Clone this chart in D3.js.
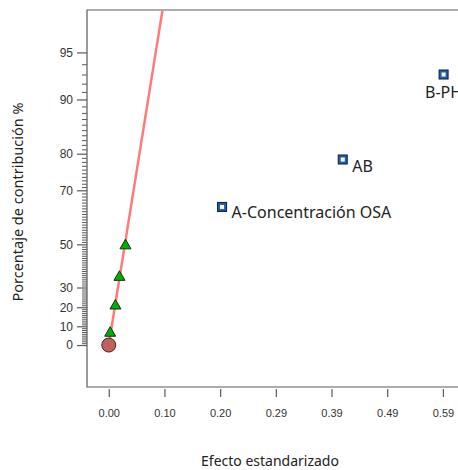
<!DOCTYPE html>
<html>
<head>
<meta charset="utf-8">
<script src="https://cdn.jsdelivr.net/npm/d3@7"></script>
<style>
  body { margin: 0; background: #fff; }
  svg { display: block; font-family: "Segoe UI", "Noto Sans", "Open Sans", sans-serif; }
</style>
</head>
<body>
<div id="chart"></div>
<script>
// Chart data
const effectNames = ["A-Concentración OSA", "AB", "B-PH"];
const effectValues = [0.200, 0.413, 0.591];
const effectPct = [64.5, 78.6, 93.0];

const errorValues = [0.0025, 0.0118, 0.0189, 0.0295];
const errorPct = [7.1, 21.4, 35.7, 50.0];

const originPoint = { value: 0, pct: 0 };

const fitValues = [0, 0.0948];
const fitPct = [0, 97.5];

const xTicks = [0, 0.0983, 0.1966, 0.2949, 0.3932, 0.4915, 0.5898];
const yMajor = [0, 10, 20, 30, 50, 70, 80, 90, 95];
const yMinor = d3.range(1, 95).filter(d => !yMajor.includes(d));

// Inverse normal CDF (Acklam)
function probit(p) {
    const a = [-39.69683028665376, 220.9460984245205, -275.9285104469687, 138.3577518672690, -30.66479806614716, 2.506628274631000];
    const b = [-54.47609879822406, 161.5858368580409, -155.6989798598866, 66.80131188771972, -13.28068155288572];
    const c = [-0.007784894002430293, -0.3223964580411365, -2.400758277161838, -2.549732539343734, 4.374664141464968, 2.938163982698783];
    const d = [0.007784695709041462, 0.3224671290700398, 2.445134137142996, 3.754408661907416];
    const plow = 0.02425;
    let q, r;
    if (p < plow) {
        q = Math.sqrt(-2 * Math.log(p));
        return (((((c[0]*q+c[1])*q+c[2])*q+c[3])*q+c[4])*q+c[5]) / ((((d[0]*q+d[1])*q+d[2])*q+d[3])*q+1);
    }
    if (p <= 1 - plow) {
        q = p - 0.5; r = q * q;
        return (((((a[0]*r+a[1])*r+a[2])*r+a[3])*r+a[4])*r+a[5])*q / (((((b[0]*r+b[1])*r+b[2])*r+b[3])*r+b[4])*r+1);
    }
    q = Math.sqrt(-2 * Math.log(1 - p));
    return -(((((c[0]*q+c[1])*q+c[2])*q+c[3])*q+c[4])*q+c[5]) / ((((d[0]*q+d[1])*q+d[2])*q+d[3])*q+1);
}
const halfNormal = pct => probit(0.5 + pct / 200);

// Layout
const W = 458, H = 470;
const plot = { left: 87, top: 10, bottom: 387, right: 470 };

const svg = d3.select("#chart")
    .append("svg")
    .attr("width", W)
    .attr("height", H);

const x = d3.scaleLinear()
    .domain([-0.0384, 0.6376])
    .range([plot.left, plot.right]);

const yz = d3.scaleLinear()
    .domain([-0.281, 2.244])
    .range([plot.bottom, plot.top]);
const y = pct => yz(halfNormal(pct));

// Clip for plot contents
svg.append("clipPath").attr("id", "clip")
    .append("rect")
    .attr("x", plot.left).attr("y", plot.top)
    .attr("width", plot.right - plot.left)
    .attr("height", plot.bottom - plot.top);

// Frame
const frameColor = "#5a5a5a";
svg.append("path")
    .attr("d", `M${plot.right},${plot.top}H${plot.left}V${plot.bottom}H${plot.right}`)
    .attr("fill", "none")
    .attr("stroke", frameColor)
    .attr("stroke-width", 1.2);

// X axis
const xAxis = svg.append("g")
    .attr("transform", `translate(0,${plot.bottom + 2})`)
    .call(d3.axisBottom(x)
        .tickValues(xTicks)
        .tickSize(8)
        .tickPadding(12)
        .tickFormat(d3.format(".2f")));
xAxis.select(".domain").remove();
xAxis.selectAll("line").attr("stroke", frameColor).attr("stroke-width", 1.2);
xAxis.selectAll("text")
    .attr("fill", "#333")
    .style("font-size", "11px")
    .style("font-family", "inherit");

// Y axis - minor ticks
const yScaleForAxis = d3.scaleLinear().domain(yz.domain()).range(yz.range());
const yMinorAxis = svg.append("g")
    .attr("transform", `translate(${plot.left},0)`)
    .call(d3.axisLeft(yScaleForAxis)
        .tickValues(yMinor.map(halfNormal))
        .tickSize(5)
        .tickFormat(""));
yMinorAxis.select(".domain").remove();
yMinorAxis.selectAll("line").attr("stroke", frameColor);

// Y axis - major ticks
const yMajorAxis = svg.append("g")
    .attr("transform", `translate(${plot.left},0)`)
    .call(d3.axisLeft(yScaleForAxis)
        .tickValues(yMajor.map(halfNormal))
        .tickSize(10)
        .tickPadding(4)
        .tickFormat((d, i) => yMajor[i]));
yMajorAxis.select(".domain").remove();
yMajorAxis.selectAll("line").attr("stroke", frameColor).attr("stroke-width", 1.2);
yMajorAxis.selectAll("text")
    .attr("fill", "#333")
    .style("font-size", "12px")
    .style("font-family", "inherit");

// Axis titles
svg.append("text")
    .attr("x", 270)
    .attr("y", 466)
    .attr("text-anchor", "middle")
    .attr("fill", "#222")
    .style("font-size", "14px")
    .text("Efecto estandarizado");

svg.append("text")
    .attr("transform", `translate(23,202) rotate(-90)`)
    .attr("text-anchor", "middle")
    .attr("fill", "#222")
    .style("font-size", "14.5px")
    .text("Porcentaje de contribución %");

const g = svg.append("g").attr("clip-path", "url(#clip)");

// Fit line
g.append("path")
    .datum(d3.zip(fitValues, fitPct))
    .attr("d", d3.line().x(d => x(d[0])).y(d => y(d[1])))
    .attr("fill", "none")
    .attr("stroke", "#ff7b7b")
    .attr("stroke-width", 2.5);

// Origin point
g.append("circle")
    .attr("cx", x(originPoint.value))
    .attr("cy", y(originPoint.pct))
    .attr("r", 7)
    .attr("fill", "#c0605f")
    .attr("stroke", "#4a2020")
    .attr("stroke-width", 1);

// Error estimates (triangles)
g.selectAll(".tri")
    .data(d3.zip(errorValues, errorPct))
    .enter()
    .append("path")
    .attr("class", "tri")
    .attr("d", d => {
        const cx = x(d[0]), cy = y(d[1]);
        return `M${cx},${cy - 5}L${cx + 5.5},${cy + 4.5}L${cx - 5.5},${cy + 4.5}Z`;
    })
    .attr("fill", "#00b000")
    .attr("stroke", "#123012")
    .attr("stroke-width", 1);

// Selected effects (squares)
const eff = g.selectAll(".eff")
    .data(d3.zip(effectValues, effectPct, effectNames))
    .enter()
    .append("g")
    .attr("class", "eff")
    .attr("transform", d => `translate(${x(d[0])},${y(d[1])})`);

eff.append("rect")
    .attr("x", -4.5).attr("y", -4.5)
    .attr("width", 9).attr("height", 9)
    .attr("fill", "#1f5fb0")
    .attr("stroke", "#0b1d3a")
    .attr("stroke-width", 1);

eff.append("rect")
    .attr("x", -2).attr("y", -2)
    .attr("width", 4).attr("height", 4)
    .attr("fill", "#fff");

eff.append("text")
    .attr("x", (d, i) => i === 2 ? 0 : 9.5)
    .attr("y", (d, i) => i === 2 ? 23 : (i === 0 ? 11.5 : 12))
    .attr("text-anchor", (d, i) => i === 2 ? "middle" : "start")
    .attr("fill", "#222")
    .style("font-size", "16px")
    .text(d => d[2]);
</script>
</body>
</html>
